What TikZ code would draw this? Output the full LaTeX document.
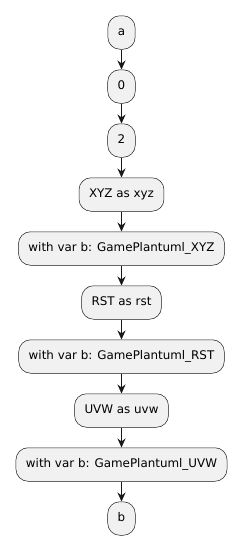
\documentclass[tikz,border=0pt]{standalone}
\usepackage{fontspec}
\setmainfont{DejaVu Sans}
\usepackage{tikz}
\usetikzlibrary{arrows.meta,positioning}
\definecolor{ActFill}{HTML}{F1F1F1}
\definecolor{ActLine}{HTML}{181818}

\begin{document}
\begin{tikzpicture}[
  node distance=20pt,
  act/.style={draw=ActLine, fill=ActFill, rounded corners=12pt, line width=0.5pt,
    minimum height=33.5pt, minimum width=27pt, inner xsep=10pt,
    text height=8.5pt, text depth=2.5pt, font=\fontsize{11.9}{14}\selectfont, align=center},
  flow/.style={-{Stealth[length=9pt,width=8pt,inset=3pt]}, ActLine, line width=0.9pt}
]
  \useasboundingbox (0,0) rectangle (246pt,-554pt);
  \node[act] (a) at (121.5pt,-32.5pt) {a};
  \node[act, below=of a] (n0) {0};
  \node[act, below=of n0] (n2) {2};
  \node[act, below=of n2] (xyz) {XYZ as xyz};
  \node[act, below=of xyz] (wxyz) {with var b: GamePlantuml\_XYZ};
  \node[act, below=of wxyz] (rst) {RST as rst};
  \node[act, below=of rst] (wrst) {with var b: GamePlantuml\_RST};
  \node[act, below=of wrst] (uvw) {UVW as uvw};
  \node[act, below=of uvw] (wuvw) {with var b: GamePlantuml\_UVW};
  \node[act, below=of wuvw] (b) {b};
  \draw[flow] (a) -- (n0);
  \draw[flow] (n0) -- (n2);
  \draw[flow] (n2) -- (xyz);
  \draw[flow] (xyz) -- (wxyz);
  \draw[flow] (wxyz) -- (rst);
  \draw[flow] (rst) -- (wrst);
  \draw[flow] (wrst) -- (uvw);
  \draw[flow] (uvw) -- (wuvw);
  \draw[flow] (wuvw) -- (b);
\end{tikzpicture}
\end{document}
